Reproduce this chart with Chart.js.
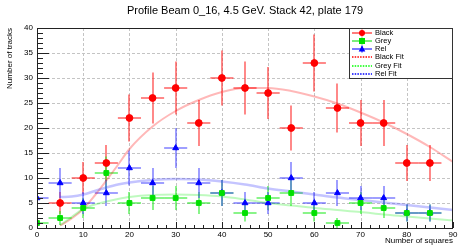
<!DOCTYPE html>
<html><head><meta charset="utf-8">
<script src="https://cdn.jsdelivr.net/npm/chart.js@4/dist/chart.umd.min.js"></script>
<style>html,body{margin:0;padding:0;background:#fff}canvas{display:block}</style>
</head><body>
<canvas id="c" width="458" height="246"></canvas>
<script>
const chartTitle = "Profile Beam 0_16, 4.5 GeV. Stack 42, plate 179";
const xTitle = "Number of squares";
const yTitle = "Number of tracks";

const blackX = [5,10,15,20,25,30,35,40,45,50,55,60,65,70,75,80,85];
const blackY = [5,10,13,22,26,28,21,30,28,27,20,33,24,21,21,13,13];
const blackErr = [2.2,3.2,3.6,4.7,5.1,5.3,4.6,5.5,5.3,5.2,4.5,5.7,4.9,4.6,4.6,3.6,3.6];

const greyX = [0,5,10,15,20,25,30,35,40,45,50,55,60,65,70,75,80,85];
const greyY = [1,2,4,11,5,6,6,5,7,3,6,7,3,1,5,4,3,3];
const greyErr = [1,1.4,2,3.3,2.2,2.4,2.4,2.2,2.6,1.7,2.4,2.6,1.7,1,2.2,2,1.7,1.7];

const relX = [0,5,10,15,20,25,30,35,40,45,50,55,60,65,70,75,80,85];
const relY = [6,9,5,7,12,9,16,9,7,5,5,10,5,7,6,6,3,3];
const relErr = [2.4,3,2.2,2.6,3.5,3,4,3,2.6,2.2,2.2,3.2,2.2,2.6,2.4,2.4,1.7,1.7];

const xHalfWidth = 2.5;

const fitX = [5,7.5,10,12.5,15,17.5,20,25,30,35,40,45,50,55,60,65,70,75,80,85,90];
const blackFit = [0.5,1.9,3.8,6.5,9.5,12.6,15.8,20.3,23.4,25.6,27.2,28.0,28.0,27.4,26.3,24.9,23.1,21.1,18.8,16.2,13.2];
const greyFit  = [0.55,2.2,3.8,4.7,5.3,5.8,6.2,6.6,6.7,6.6,6.3,5.7,5.0,4.5,4.0,3.6,3.2,2.7,2.3,1.9,1.5];
const relFit   = [6.2,6.3,6.7,7.4,8.1,8.7,9.1,9.6,9.8,9.7,9.3,8.7,7.9,7.3,6.7,6.1,5.6,5.1,4.6,4.1,3.6];

const xTicks = [0,10,20,30,40,50,60,70,80,90];
const yTicks = [0,5,10,15,20,25,30,35,40];

const RED = '#ff0000', GREEN = '#00e000', BLUE = '#0000ff';
const FONT = '"Liberation Sans", Arial, Helvetica, sans-serif';

function pts(xs, ys){ return xs.map((x,i)=>({x:x, y:ys[i]})); }

const series = [
  {label:'Black', xs:blackX, ys:blackY, err:blackErr, color:RED, bar:'rgba(255,40,40,0.85)', style:'circle'},
  {label:'Grey', xs:greyX, ys:greyY, err:greyErr, color:GREEN, bar:'rgba(40,235,40,0.85)', style:'rect'},
  {label:'Rel', xs:relX, ys:relY, err:relErr, color:BLUE, bar:'rgba(70,70,255,0.8)', style:'triangle'}
];

const framePlugin = {
  id:'frame',
  beforeDatasetsDraw(chart){
    const ctx = chart.ctx, a = chart.chartArea, xs = chart.scales.x, ys = chart.scales.y;
    ctx.save();
    ctx.strokeStyle = '#c4c4c4'; ctx.lineWidth = 1; ctx.setLineDash([3,2]);
    xTicks.forEach(v=>{ if(v<=0||v>=90) return; const p=Math.round(xs.getPixelForValue(v))+0.5;
      ctx.beginPath(); ctx.moveTo(p,a.top); ctx.lineTo(p,a.bottom); ctx.stroke(); });
    yTicks.forEach(v=>{ if(v<=0||v>=40) return; const p=Math.round(ys.getPixelForValue(v))+0.5;
      ctx.beginPath(); ctx.moveTo(a.left,p); ctx.lineTo(a.right,p); ctx.stroke(); });
    ctx.setLineDash([]);
    ctx.beginPath(); ctx.rect(a.left,a.top,a.right-a.left,a.bottom-a.top); ctx.clip();
    ctx.lineWidth = 1.3;
    series.forEach(s=>{
      s.xs.forEach((x,i)=>{
        ctx.strokeStyle = s.bar;
        const px = Math.round(xs.getPixelForValue(x)), py = Math.round(ys.getPixelForValue(s.ys[i]));
        const x0 = xs.getPixelForValue(x-xHalfWidth), x1 = xs.getPixelForValue(x+xHalfWidth);
        const y0 = ys.getPixelForValue(s.ys[i]-s.err[i]), y1 = ys.getPixelForValue(s.ys[i]+s.err[i]);
        ctx.beginPath(); ctx.moveTo(x0,py); ctx.lineTo(x1,py); ctx.stroke();
        ctx.beginPath(); ctx.moveTo(px,y0); ctx.lineTo(px,y1); ctx.stroke();
      });
    });
    ctx.restore();
  },
  afterDraw(chart){
    const ctx = chart.ctx, a = chart.chartArea, xs = chart.scales.x, ys = chart.scales.y;
    ctx.save();
    ctx.strokeStyle = '#222'; ctx.lineWidth = 1;
    ctx.strokeRect(Math.round(a.left)+0.5, Math.round(a.top)+0.5, Math.round(a.right-a.left)-1, Math.round(a.bottom-a.top));
    for(let v=0; v<=40; v+=1){
      const p = Math.round(ys.getPixelForValue(v))+0.5, len = (v%5===0)?12:6;
      ctx.beginPath(); ctx.moveTo(a.left,p); ctx.lineTo(a.left+len,p); ctx.stroke();
    }
    for(let v=0; v<=90; v+=2){
      const p = Math.round(xs.getPixelForValue(v))+0.5, len = (v%10===0)?6:3;
      ctx.beginPath(); ctx.moveTo(p,a.bottom); ctx.lineTo(p,a.bottom-len); ctx.stroke();
    }
    ctx.fillStyle = '#000';
    ctx.font = '8px ' + FONT;
    ctx.textAlign = 'right'; ctx.textBaseline = 'middle';
    yTicks.forEach(v=>ctx.fillText(String(v), a.left-4, ys.getPixelForValue(v)));
    ctx.textAlign = 'center'; ctx.textBaseline = 'top';
    xTicks.forEach(v=>ctx.fillText(String(v), xs.getPixelForValue(v), a.bottom+3));
    ctx.textAlign = 'center'; ctx.textBaseline = 'middle';
    ctx.font = '11px ' + FONT;
    ctx.fillText(chartTitle, (a.left+a.right)/2, 11);
    ctx.font = '8px ' + FONT; ctx.textAlign = 'right';
    ctx.fillText(xTitle, a.right, 241);
    ctx.save(); ctx.translate(10, a.top); ctx.rotate(-Math.PI/2);
    ctx.textAlign = 'right'; ctx.fillText(yTitle, 0, 0); ctx.restore();
    // legend
    const lx = 349, ly = a.top, lw = a.right - 349, lh = 50;
    ctx.fillStyle = '#fff'; ctx.fillRect(lx, ly, lw, lh);
    ctx.strokeStyle = '#333'; ctx.lineWidth = 1; ctx.strokeRect(lx+0.5, ly+0.5, lw-1, lh);
    const entries = [
      {label:'Black', color:RED, style:'circle'},
      {label:'Grey', color:GREEN, style:'rect'},
      {label:'Rel', color:BLUE, style:'triangle'},
      {label:'Black Fit', color:RED, dotted:true},
      {label:'Grey Fit', color:'#00ff00', dotted:true},
      {label:'Rel Fit', color:BLUE, dotted:true}
    ];
    ctx.font = '7.5px ' + FONT; ctx.textAlign = 'left'; ctx.textBaseline = 'middle';
    entries.forEach((e,i)=>{
      const cy = Math.round(ly + 4.5 + i*8.3);
      const x0 = 352, x1 = 372, cx = 362;
      ctx.strokeStyle = e.color;
      if(e.dotted){
        ctx.lineWidth = 1.4;
        ctx.setLineDash([1.5,1.2]);
        ctx.beginPath(); ctx.moveTo(x0,cy); ctx.lineTo(x1,cy); ctx.stroke();
        ctx.setLineDash([]);
      } else {
        ctx.lineWidth = 1.3;
        ctx.globalAlpha = 0.8;
        ctx.beginPath(); ctx.moveTo(x0,cy); ctx.lineTo(x1,cy); ctx.stroke();
        ctx.beginPath(); ctx.moveTo(cx,cy-3.5); ctx.lineTo(cx,cy+3.5); ctx.stroke();
        ctx.globalAlpha = 1;
        ctx.fillStyle = e.color;
        ctx.beginPath();
        if(e.style==='circle'){ ctx.arc(cx,cy,3,0,Math.PI*2); }
        else if(e.style==='rect'){ ctx.rect(cx-3,cy-3,6,6); }
        else { ctx.moveTo(cx,cy-3.5); ctx.lineTo(cx+3.3,cy+2.5); ctx.lineTo(cx-3.3,cy+2.5); ctx.closePath(); }
        ctx.fill();
      }
      ctx.fillStyle = '#000';
      ctx.fillText(e.label, 375, cy);
    });
    ctx.restore();
  }
};

const datasets = [];
series.slice().reverse().forEach((s,k)=>{
  datasets.push({label:s.label, data:pts(s.xs,s.ys), pointStyle:s.style, pointRadius:3.4,
    backgroundColor:s.color, borderColor:s.color, pointBackgroundColor:s.color, pointBorderColor:s.color,
    pointBorderWidth:1, showLine:false, order:2-k});
});
datasets.push({label:'Black Fit', data:pts(fitX,blackFit), showLine:true, pointRadius:0,
  borderColor:'rgba(255,0,0,0.28)', borderWidth:2, cubicInterpolationMode:'monotone', order:5});
datasets.push({label:'Grey Fit', data:pts(fitX,greyFit), showLine:true, pointRadius:0,
  borderColor:'rgba(0,235,0,0.25)', borderWidth:2, cubicInterpolationMode:'monotone', order:4});
datasets.push({label:'Rel Fit', data:pts(fitX,relFit), showLine:true, pointRadius:0,
  borderColor:'rgba(60,60,255,0.3)', borderWidth:2.5, cubicInterpolationMode:'monotone', order:3});

new Chart(document.getElementById('c'), {
  type:'scatter',
  data:{datasets},
  options:{
    responsive:false, animation:false, devicePixelRatio:1,
    layout:{padding:{top:28, right:5, left:0, bottom:0}},
    plugins:{legend:{display:false}, title:{display:false}, tooltip:{enabled:false}},
    scales:{
      x:{type:'linear', min:0, max:90,
        afterFit(s){ s.height = 18; },
        grid:{display:false}, border:{display:false},
        ticks:{display:false}},
      y:{type:'linear', min:0, max:40,
        afterFit(s){ s.width = 37; },
        grid:{display:false}, border:{display:false},
        ticks:{display:false}}
    }
  },
  plugins:[framePlugin]
});
</script>
</body></html>
